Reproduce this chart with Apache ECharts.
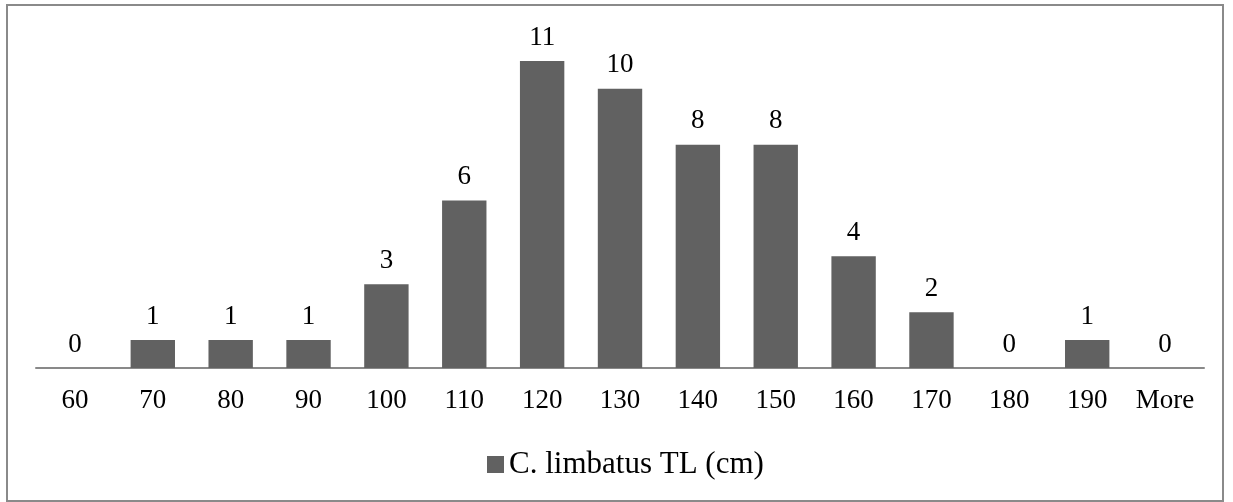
<!DOCTYPE html>
<html>
<head>
<meta charset="utf-8">
<script src="https://cdn.jsdelivr.net/npm/echarts@6/dist/echarts.min.js"></script>
<style>
html,body{margin:0;padding:0;background:#fff;}
#chart{width:1233px;height:502px;}
</style>
</head>
<body>
<div id="chart"></div>
<script>
var categories = ['60','70','80','90','100','110','120','130','140','150','160','170','180','190','More'];
var counts = [0,1,1,1,3,6,11,10,8,8,4,2,0,1,0];
var seriesName = 'C. limbatus TL (cm)';

var font = 'Liberation Serif, Times New Roman, serif';
var chart = echarts.init(document.getElementById('chart'));
chart.setOption({
  animation: false,
  backgroundColor: '#ffffff',
  graphic: [{
    type: 'rect',
    shape: {x: 7, y: 5, width: 1216, height: 496},
    style: {fill: 'none', stroke: '#8a8a8a', lineWidth: 2},
    silent: true
  }],
  grid: {left: 36, right: 29, top: 33, bottom: 134, containLabel: false},
  legend: {
    top: 444,
    left: 482,
    icon: 'rect',
    itemWidth: 17,
    itemHeight: 17,
    textStyle: {fontFamily: font, fontSize: 31, color: '#000'},
    data: [seriesName]
  },
  xAxis: {
    type: 'category',
    data: categories,
    axisLine: {lineStyle: {color: '#898989', width: 2}},
    axisTick: {show: false},
    axisLabel: {fontFamily: font, fontSize: 27, color: '#000', margin: 19, interval: 0}
  },
  yAxis: {
    type: 'value',
    min: 0, max: 12,
    show: false,
    splitLine: {show: false}
  },
  series: [{
    name: seriesName,
    type: 'bar',
    data: counts,
    barCategoryGap: '43%',
    itemStyle: {color: '#616161'},
    label: {
      show: true,
      position: 'top',
      distance: 10,
      fontFamily: font,
      fontSize: 27,
      color: '#000'
    }
  }]
});
</script>
</body>
</html>
